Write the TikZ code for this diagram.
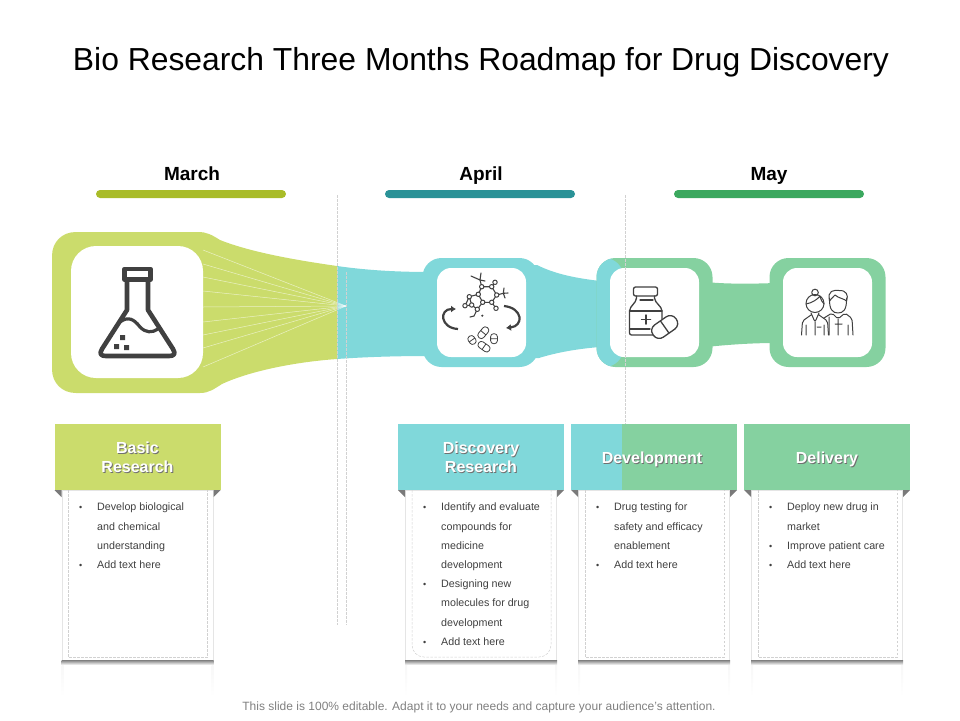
\documentclass[tikz,border=0pt]{standalone}
\usepackage{fontspec}
\setmainfont{Liberation Sans}
\usetikzlibrary{positioning,arrows.meta}
\definecolor{marchfill}{HTML}{CBDC6C}
\definecolor{aprilfill}{HTML}{80D8DA}
\definecolor{mayfill}{HTML}{85D1A0}
\definecolor{marchbar}{HTML}{A9BC28}
\definecolor{aprilbar}{HTML}{2A9297}
\definecolor{maybar}{HTML}{3BA85E}
\definecolor{icondark}{HTML}{404040}
\definecolor{foldgray}{HTML}{7A7A7A}
\newcommand{\softlabel}[1]{\leavevmode\rlap{\kern0.9pt\raisebox{-0.9pt}{\color{icondark!75}#1}}\color{white}#1}
\newcommand{\cardbullet}{\leavevmode\llap{\makebox[18pt][l]{\fontsize{9}{9}\selectfont•}}}
\begin{document}
\begin{tikzpicture}[
		x=1pt,y=-1pt,
		month/.style={anchor=base,font=\fontsize{19}{20}\selectfont\bfseries,inner sep=0pt},
		monthbar/.style={minimum width=190pt,minimum height=8pt,inner sep=0pt,rounded corners=4pt},
		hub/.style={minimum width=116pt,minimum height=109pt,inner sep=0pt,rounded corners=19pt},
		panel/.style={fill=white,minimum size=89pt,inner sep=0pt,rounded corners=14pt},
		header/.style={minimum width=166pt,minimum height=66pt,inner sep=0pt},
		headtext/.style={inner sep=0pt,align=center,font=\fontsize{16}{19}\selectfont\bfseries},
		card/.style={fill=white,draw=black!10,line width=.6pt,minimum width=151pt,minimum height=170pt,inner sep=0pt},
		cardtext/.style={anchor=north west,inner sep=0pt,align=left,text=icondark,font=\fontsize{10.7}{19.2}\selectfont},
		guide/.style={draw=black!18,line width=.5pt,dash pattern=on 2.5pt off 1.5pt},
		icon/.style={draw=icondark,line width=1.3pt,line cap=round,line join=round},
		flaskline/.style={draw=icondark,line width=4.6pt,line join=round}
	]
	\useasboundingbox (0,0) rectangle (960,720);
	\node[font=\fontsize{31.85}{36}\selectfont,inner sep=0pt] (title) at (481,62) {Bio Research Three Months Roadmap for Drug Discovery};
	\node[month] (march) at (192,180) {March};
	\node[month] (april) at (481,180) {April};
	\node[month] (may) at (769,180) {May};
	\node[monthbar,fill=marchbar] (marchline) at (191,194) {};
	\node[monthbar,fill=aprilbar] (aprilline) at (480,194) {};
	\node[monthbar,fill=maybar] (mayline) at (769,194) {};
	\fill[aprilfill] (337,266) .. controls (365,270) and (395,272) .. (430,272) -- (430,356) .. controls (395,356) and (365,357) .. (337,359) -- cycle;
	\fill[marchfill] (337,266) .. controls (295,260) and (250,252) .. (220,240) .. controls (212,235) and (207,232) .. (198,232) -- (76,232) .. controls (62,232) and (52,242) .. (52,256) -- (52,369) .. controls (52,383) and (62,393) .. (76,393) -- (200,393) .. controls (209,393) and (214,389) .. (222,384) .. controls (250,371) and (295,362) .. (337,359) -- cycle;
	\fill[aprilfill] (530,265) -- (537,265) .. controls (555,274) and (575,278) .. (600,281) -- (600,347) .. controls (575,349) and (555,353) .. (539,358) -- (530,358) -- cycle;
	\fill[mayfill] (706,282) .. controls (725,284) and (750,284) .. (775,283) -- (775,343) .. controls (750,343) and (725,345) .. (706,347) -- cycle;
	\node[hub,fill=aprilfill] (discoveryhub) at (480.5,312.5) {};
	\node[hub,fill=mayfill,path picture={\fill[aprilfill] (path picture bounding box.south west) rectangle ([xshift=27pt]path picture bounding box.north west);}] (developmenthub) at (654.5,312.5) {};
	\node[hub,fill=mayfill] (deliveryhub) at (827.5,312.5) {};
	\node[panel,minimum size=132pt,rounded corners=25pt] (basicpanel) at (137,312) {};
	\node[panel] (discoverypanel) at (481.5,312.5) {};
	\node[panel] (developmentpanel) at (654.5,312.5) {};
	\node[panel] (deliverypanel) at (827.5,312.5) {};
	\coordinate (raypoint) at (346,306);
	\foreach \rayy in {250,264,277,291,307,322,335,348,367}
		\draw[white,line width=.5pt,opacity=.6] (raypoint) -- (203,\rayy);
	\draw[guide] (337,195) -- (337,625);
	\draw[guide] (346,272) -- (346,625);
	\draw[guide] (625,195) -- (625,490);
	% flask
	\draw[flaskline] (124.5,269) rectangle (150.5,279.5);
	\draw[flaskline] (127,279.5) -- (127,310) -- (102,349) .. controls (99,354) and (101,356) .. (106,356) -- (169,356) .. controls (174,356) and (176,354) .. (173,349) -- (148,310) -- (148,279.5);
	\draw[flaskline,line width=3.2pt] (120,322) .. controls (128,316) and (134,319) .. (140,327) .. controls (146,333) and (152,333) .. (158,329);
	\fill[icondark] (120,335) rectangle (125,340) (114,344) rectangle (119,349) (124,345) rectangle (129,350);
	% molecule
	\draw[icon,line width=1.1pt] (481.7,286.7) -- (491.7,286.7) -- (496.7,295) -- (491.7,302.3) -- (482.7,302.3) -- (478.3,294.3) -- cycle;
	\draw[icon,line width=1.1pt] (491.7,286.7) -- (495,282.3) (496.7,295) -- (503.3,293.3) (491.7,302.3) -- (496,308.3) (481.7,286.7) -- (480,280) (478.3,294.3) -- (469.3,296.7) -- (465,305.7) -- (471.7,305) -- (469.3,296.7) (482.7,302.3) -- (477.3,309.3) -- (471.7,305) (477.3,309.3) -- (474,316);
	\foreach \atomx/\atomy in {481.7/286.7,491.7/286.7,496.7/295,491.7/302.3,482.7/302.3,478.3/294.3,495/282.3,496/308.3,469.3/296.7,465/305.7,471.7/305,477.3/309.3}
		\draw[icon,line width=1pt,fill=white] (\atomx,\atomy) circle (2.2);
	\draw[icon,line width=1.1pt] (480,280) -- (471,276) (480,280) -- (481,273) (480,280) -- (485,281) (503.3,293.3) -- (508,293) (503.3,293.3) -- (504,288) (503.3,293.3) -- (505,298) (474,316) -- (470,317);
	\fill[icondark] (482.3,315.7) circle (1.2);
	\draw[icondark,line width=2.2pt,-{Latex[length=5pt,width=7pt]}] (458,329) .. controls (440,328) and (439,309) .. (456,309);
	\draw[icondark,line width=2.2pt,-{Latex[length=5pt,width=7pt]}] (504,306) .. controls (523,308) and (524,326) .. (506,328);
	\foreach \pillx/\pilly/\pillrot/\pilllen in {483.3/332.7/50/6.5,484/346.7/-35/6.5,472/340/-55/4.5,494/338.7/90/5}
		\draw[icon,line width=.8pt,shift={(\pillx,\pilly)},rotate=\pillrot,rounded corners=3pt] (-\pilllen,-3.4) rectangle (\pilllen,3.4) (0,-3.4) -- (0,3.4);
	% bottle
	\draw[icon,rounded corners=2pt] (633.5,287) rectangle (657.5,296);
	\draw[icon,rounded corners=2pt] (636.5,296) -- (636.5,300) -- (629.5,309) -- (629.5,335) -- (653,335);
	\draw[icon,rounded corners=2pt] (654.5,296) -- (654.5,300) -- (662,309) -- (662,319);
	\draw[icon] (629.5,311) -- (662,311) (629.5,329) -- (650,329) (640,300) -- (653,300);
	\draw[icon,line width=1.5pt] (641.5,319.3) -- (650.5,319.3) (646,315) -- (646,324);
	\draw[icon,shift={(664.7,327)},rotate=35,rounded corners=7pt,fill=white] (-14,-7.5) rectangle (14,7.5) (0,-7.5) -- (0,7.5);
	% people
	\draw[icon,line width=1pt] (815,303.5) circle (9);
	\draw[icon,line width=1pt] (815,292.5) circle (3.3);
	\draw[icon,line width=1pt] (806,304) .. controls (812,303) and (818,299) .. (820,296) .. controls (821,300) and (822,302) .. (824,304);
	\draw[icon,line width=1pt,rounded corners=2pt] (801.5,335) -- (802.5,321) -- (811,315) (828.5,335) -- (827.5,321) -- (819,315) (811,313) -- (815,322) -- (819,313) (815,322) -- (815,335) (806,325) -- (806,335) (824,325) -- (824,335) (817,327) -- (821,327);
	\draw[icon,line width=1pt,fill=white] (829.5,298) .. controls (829,310) and (833,313) .. (838,313) .. controls (843,313) and (847,310) .. (846.5,298);
	\draw[icon,line width=1pt] (829.5,301) .. controls (827,290) and (834,290) .. (839,290.5) .. controls (846,290) and (849,295) .. (846.5,301) .. controls (845,299) and (838,298) .. (835,295) .. controls (833,297) and (831,299) .. (829.5,301);
	\draw[icon,line width=1pt,rounded corners=2pt] (824,318) -- (832,313) -- (838,319) -- (845,313) -- (852,318.5) -- (853,335) (838,319) -- (838,335) (848,325) -- (848,335) (842,324) -- (835,324) (829,317) -- (829,335);
	% headers and cards
	\foreach \cardname/\cardx/\cardfill in {basic/137.5/marchfill,discovery/481/aprilfill,development/654/mayfill,delivery/827/mayfill}{
		\node[header,fill=\cardfill] (\cardname head) at (\cardx,457) {};
		\node[card,below=0pt of \cardname head] (\cardname card) {};
		\shade[top color=black!50,bottom color=white] (\cardx-76,660) rectangle (\cardx+76,665);
		\shade[top color=black!3,bottom color=white] (\cardx-76,665) rectangle (\cardx-74,697);
		\shade[top color=black!3,bottom color=white] (\cardx+74,665) rectangle (\cardx+76,697);
		\fill[foldgray] (\cardx-83,490) -- (\cardx-76,490) -- (\cardx-76,497) -- cycle;
		\fill[foldgray] (\cardx+83,490) -- (\cardx+76,490) -- (\cardx+76,497) -- cycle;
	}
	\fill[aprilfill] (571,424) rectangle (622,490);
	\draw[guide] (68,490) -- (68,657) -- (207.5,657) -- (207.5,490);
	\draw[guide,rounded corners=12pt] (412,490) -- (412,657) -- (551,657) -- (551,490);
	\draw[guide] (585,490) -- (585,657) -- (724,657) -- (724,490);
	\draw[guide] (758,490) -- (758,657) -- (897,657) -- (897,490);
	\node[headtext] (basiclabel) at (137.5,458) {\softlabel{Basic}\\\softlabel{Research}};
	\node[headtext] (discoverylabel) at (481,458) {\softlabel{Discovery}\\\softlabel{Research}};
	\node[headtext] (developmentlabel) at (652,460) {\softlabel{Development}};
	\node[headtext] (deliverylabel) at (827,460) {\softlabel{Delivery}};
	\node[cardtext] (basictext) at (97,503) {\cardbullet Develop biological\\and chemical\\understanding\\\cardbullet Add text here};
	\node[cardtext] (discoverytext) at (441,503) {\cardbullet Identify and evaluate\\compounds for\\medicine\\development\\\cardbullet Designing new\\molecules for drug\\development\\\cardbullet Add text here};
	\node[cardtext] (developmenttext) at (614,503) {\cardbullet Drug testing for\\safety and efficacy\\enablement\\\cardbullet Add text here};
	\node[cardtext] (deliverytext) at (787,503) {\cardbullet Deploy new drug in\\market\\\cardbullet Improve patient care\\\cardbullet Add text here};
	\node[text=black!50,font=\fontsize{12}{14}\selectfont,inner sep=0pt] (footer) at (479,707) {This slide is 100\% editable. Adapt it to your needs and capture your audience's attention.};
\end{tikzpicture}
\end{document}
